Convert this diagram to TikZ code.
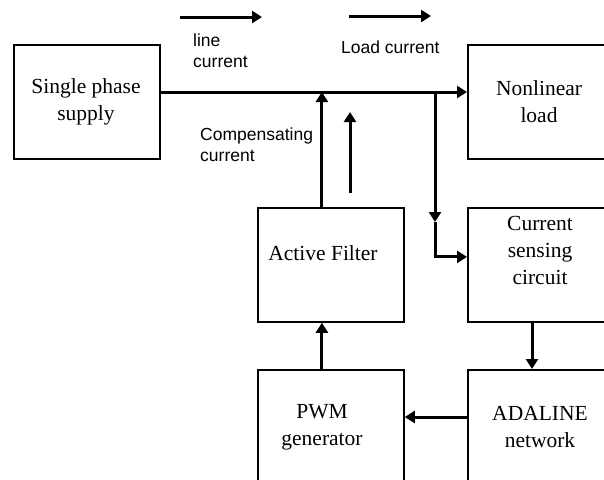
\documentclass[tikz,border=0pt]{standalone}
\usepackage{fontspec}
\setmainfont{Liberation Serif}
\newfontfamily\labelfont{Liberation Sans}
\usetikzlibrary{arrows.meta}

\begin{document}
\begin{tikzpicture}[x=1pt,y=-1pt,
  block/.style={draw, line width=1.8pt, minimum width=146pt, minimum height=114pt,
                inner sep=0pt, anchor=north west},
  boxtext/.style={font=\fontsize{21.5}{27}\selectfont, align=center, inner sep=0pt},
  lbl/.style={font=\labelfont\fontsize{17.5}{21}\selectfont, align=left, anchor=west, inner sep=0pt},
  wire/.style={line width=3pt},
  arr/.style={wire, -{Triangle[length=10pt,width=12pt]}}]
  \useasboundingbox (0,0) rectangle (604,479);
  \clip (0,0) rectangle (604,479);

  % blocks
  \node[block] (supply) at (13,44)  {};
  \node[block] (load)   at (467,44) {};
  \node[block] (filter) at (257,207) {};
  \node[block] (sense)  at (467,207) {};
  \node[block] (pwm)    at (257,369) {};
  \node[block] (ada)    at (467,369) {};

  % block texts
  \node[boxtext] (supplyT) at (86,101.5)  {Single phase\\supply};
  \node[boxtext] (loadT)   at (539,101.5) {Nonlinear\\load};
  \node[boxtext] (filterT) at (323,253)   {Active Filter};
  \node[boxtext] (senseT)  at (540,250.5) {Current\\sensing\\circuit};
  \node[boxtext] (pwmT)    at (322,427.5) {PWM\\generator};
  \node[boxtext] (adaT)    at (540,427)   {ADALINE\\network};

  % labels
  \node[lbl] (lineI) at (193,51) {line\\current};
  \node[lbl] (loadI) at (341,47) {Load current};
  \node[lbl] (compI) at (200,145) {Compensating\\current};

  % direction arrows
  \coordinate (la1) at (180,17);  \coordinate (la2) at (262,17);
  \coordinate (lb1) at (349,16);  \coordinate (lb2) at (431,16);
  \coordinate (ca1) at (350,193); \coordinate (ca2) at (350,112);
  \draw[arr] (la1) -- (la2);
  \draw[arr] (lb1) -- (lb2);
  \draw[arr] (ca1) -- (ca2);

  % main line from supply to load
  \path (supply.north east) ++(0,48) coordinate (busL);
  \draw[arr] (busL) -- (load.west |- busL);

  % compensating current injected by the filter
  \path (filter.north) ++(-9,0) coordinate (filterOut);
  \draw[arr] (filterOut) -- (filterOut |- busL);

  % load current tapped to the sensing circuit
  \path (busL -| 435,0) coordinate (tap);
  \path (sense.west) ++(0,-8) coordinate (senseIn);
  \coordinate (tapMid) at (tap |- 0,222);
  \draw[arr] (tap) -- (tapMid);
  \draw[arr] (tapMid) -- (tap |- senseIn) -- (senseIn);

  % control loop
  \path (pwm.north) ++(-9,0) coordinate (pwmOut);
  \draw[arr] (pwmOut) -- (pwmOut |- filter.south);
  \path (sense.south west) ++(65,0) coordinate (senseOut);
  \draw[arr] (senseOut) -- (senseOut |- ada.north);
  \path (ada.north west) ++(0,48) coordinate (adaOut);
  \draw[arr] (adaOut) -- (adaOut -| pwm.east);
\end{tikzpicture}
\end{document}
